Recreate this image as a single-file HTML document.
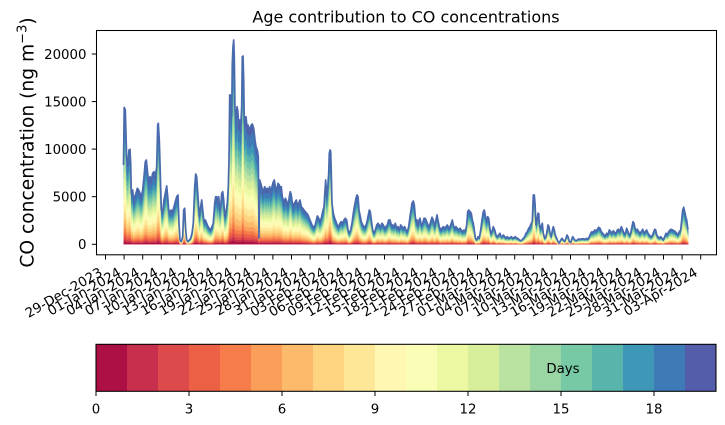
<!DOCTYPE html>
<html>
<head>
<meta charset="utf-8">
<style>
  html, body { margin: 0; padding: 0; background: #ffffff; }
  svg { display: block; }
  text { font-family: "DejaVu Sans", "Liberation Sans", sans-serif; fill: #000; }
</style>
</head>
<body>
<svg width="725" height="425" viewBox="0 0 725 425" xmlns="http://www.w3.org/2000/svg">
  <rect x="0" y="0" width="725" height="425" fill="#ffffff"/>
  <defs>
    <path id="env" d="M123.5,244.3 123.5,165 124.2,107.3 125.3,110 126.7,160 128,161.7 129,150 130,149.3 130.7,163.3 131.3,193.3 132.7,190 133.7,203.3 134.7,196.7 136,193.3 137.3,188.3 138.7,190 140,193.3 141.3,196.7 142.7,190 144,176.7 145.3,161.7 146.3,160 147.3,170 148.7,183.3 150,176.7 151.3,180 152.7,173.3 154,171.7 155.3,176.7 156.7,166.7 157.7,125 158.3,123.3 159.3,140 160.3,173.3 161.3,210 162.7,211.7 164,200 165.3,193.3 166.7,186 167.7,196.7 168.7,210 170,211.7 171.3,210 172.7,211.7 174,206.7 175.3,201.7 176.7,196.7 178,195 179,223.3 180,240 181.3,241.7 182.7,236.7 183.7,210 184.7,208.3 185.7,230 186.7,240 188,241.7 189.3,240 190.7,238.3 192,233.3 193.3,223.3 194.7,186.7 195.7,174 196.7,176.7 198,196.7 199.3,216.7 200.7,206.7 201.7,200 202.7,210 204,221.7 205.3,220 206.7,223.3 208,226.7 209.3,228.3 210.7,230 212,226.7 213.3,223.3 214.7,203.3 215.7,196.7 216.7,196.7 217.7,203.3 218.7,196.7 219.7,210 220.7,206.7 221.7,193.3 222.7,191.7 223.7,200 224.7,216.7 226,211.7 227.3,203.3 228.3,186.7 229,160 229.7,95 230.3,95 231,103.3 231.7,116.7 232.3,63.3 233,46.7 233.7,40 234.3,56.7 235,110 236,120 237,106.7 237.7,110 238.7,123.3 239.7,120 240.7,126.7 241.7,106.7 242.3,56.7 243,56 243.7,80 244.3,123.3 245,120 246,116.7 247,126.7 248,125 249.7,130 251.3,125 252.3,124 253.7,128.3 255,140 256,146.7 257.3,150 258.3,156.7 259,238 259.7,180 260.7,183.3 261.7,186.7 262.7,191.7 263.7,190 264.7,186.7 266,190 267.3,188.3 268.7,190 269.7,186.7 270.7,193.3 272,186.7 273.3,181.7 274.3,180 275.3,186.7 276.7,190 278,183.3 279.3,185 280.3,188.3 281.3,186.7 282.3,196.7 283.3,200 284.3,203.3 285.3,198.3 286.3,200 287.3,203.3 288.3,205 289.3,196.7 290.3,191.7 291.3,195 292.3,203.3 293.3,206.7 294.3,203.3 295.3,201.7 296.3,200 297.3,205 298.7,203.3 300,200 301.3,206.7 302.7,208.3 304,210 305.3,211.7 306.7,213.3 308,215 309.3,218.3 310.7,221.7 312,225 313.3,226.7 314.7,226.7 316,221.7 317.3,216 318.7,218.3 320,221.7 321.3,218.3 322.7,211.7 324,206.7 325,190 325.7,180 326.7,196.7 327.7,188.3 328.7,173.3 329.3,153.3 330,150 330.7,151.7 331.3,173.3 332,203.3 333.3,213.3 334.7,218.3 336,221.7 337.3,225 338.7,226.7 340,223.3 341.3,221.7 342.7,223.3 344,220 345.3,218.3 346.7,220 348,230 349.3,233.3 350.7,230 352,223.3 353.3,213.3 354.7,205 356,198.3 357,195 358,196.7 359,210 360,215 361.3,221.7 362.7,225 364,226.7 365.3,226.7 366.7,223.3 368,216.7 369.3,210 370.3,211.7 371.3,220 372.7,230 374,233.3 375.3,230 376.7,225 378,223.3 379.3,225 380.7,226.7 382,223.3 383.3,225 384.7,228.3 386,226.7 387.3,225 388.7,220 390,220 391.3,225 392.7,225 394,226.7 395.3,223.3 396.7,228.3 398,226.7 399.3,230 400.7,225 402,226.7 403.3,228.3 404.7,226.7 406,230 407.3,231.7 408.7,226.7 410,216.7 411,210 412,203.3 413.3,201 414.3,205 415.3,216.7 416,221.7 417,220 418,226.7 419,220 420,218.3 421.3,225 422.7,223.3 424,218.3 425.3,218.3 426.7,221.7 428,225 429.3,226.7 430.7,221.7 432,217.3 433.3,220 434.7,226.7 436,220 437,215 438,220 439.3,226.7 440.7,230 442,228.3 443.3,226.7 444.7,228.3 446,226.7 447.3,225 448.7,228.3 450,226.7 451.3,223.3 452.3,220 453.3,225 454.7,228.3 456,226.7 457.3,228.3 458.7,230 460,228.3 461.3,230 462.7,231.7 464,230 465.3,231.7 466.7,225 467.7,211.7 468.7,210 470,211.7 471.3,213.3 472.3,220 473.3,223.3 474.3,230 475.3,238.3 476.7,240 478,236.7 479.3,238.3 480.7,230 482,220 483.3,211.7 484.3,210 485.3,216 486.7,221.7 487.7,216.7 488.7,218.3 489.7,226.7 490.7,233.3 492,231.7 493.3,226.7 494.7,230 496,235 497.3,236.7 498.7,235 500,233.3 500.7,236 502,236.7 503.3,235 504.7,236.7 506,238.3 507.3,236.7 508.7,238.3 510,237.7 511.3,236.7 512.7,238.3 514,237.7 515.3,236.7 516.7,238.3 518,238.3 519.3,240 520.7,240.7 522,240 523.3,238.3 524.7,236.7 526,233.3 527.3,231.7 528.7,228.3 530,226.7 531.3,223.3 532.3,221.7 533.3,195 534.3,195 535,203.3 536,225 537,220 538,213.3 538.7,213.3 539.3,223.3 540.3,228.3 541.3,226.7 542.3,223.3 543.3,233.3 544.7,238.3 546,236.7 547,231.7 548,225 549,226.7 550,233.3 551.3,236.7 552.3,230.7 553.3,226.7 554.3,230 555.3,235 556.7,238.3 558,241.7 559.3,243.3 560.7,240 562,238.3 563.3,240 564.7,241.7 566,238.3 567,235 568,236.7 569.3,241.7 570.7,242.7 571.7,239.3 572.7,236.7 573.7,238.3 574.7,240 576,240.7 577.3,240 578.7,239 580,239.3 581.3,239 582.7,238.7 584,239 585.3,239.3 586.7,238.3 588,239.3 589.3,236.7 590.7,233.3 592,231.7 593.3,232.7 594.7,230 596,231 597.3,229.3 598.7,227.3 600,228.3 601.3,231.7 602.7,233.3 604,235 605.3,236 606.7,233.3 608,235 609.3,230 610.7,231.7 612,233.3 613.3,230.7 614.7,232.7 616,233.3 617.3,230 618.7,229.3 620,231.7 621.3,226.7 622.7,230 624,233.3 625.3,234 626.7,228.3 628,231.7 629.3,235 630.7,233.3 632,226.7 633,221.7 634,223.3 635,228.3 636,230 637.3,229.3 638.7,231.7 640,233.3 641.3,231.7 642.7,229.3 644,233.3 645.3,231.7 646.7,230 648,233.3 649.3,235 650.7,236.7 652,236 653.3,233.3 654.7,229.3 655.7,230 656.7,235 658,236.7 659.3,238.3 660.7,236.7 662,238.3 663.3,240 664.7,236.7 666,233.3 667.3,235 668.7,231.7 670,230 671.3,229.3 672.7,230 674,230.7 675.3,231.7 676.7,233.3 678,235 679.3,231.7 680.7,230 681.7,220 682.7,210 683.7,207.3 684.7,211.7 685.7,216.7 686.7,220 687.7,228.3 688.3,229.3 688.5,244.3 Z"/>
  </defs>

  <!-- Title -->
  <text x="406" y="22.5" font-size="16" text-anchor="middle">Age contribution to CO concentrations</text>

  <!-- Stacked layers (scaled copies of the total envelope about baseline y=244.3) -->
  <g>
    <use href="#env" fill="#535da9"/>
    <use href="#env" fill="#3d7ab6" transform="matrix(1,0,0,0.93,0,17.101)"/>
    <use href="#env" fill="#3f97b7" transform="matrix(1,0,0,0.83,0,41.531)"/>
    <use href="#env" fill="#59b4ab" transform="matrix(1,0,0,0.76,0,58.632)"/>
    <use href="#env" fill="#77c9a5" transform="matrix(1,0,0,0.70,0,73.29)"/>
    <use href="#env" fill="#9ad6a4" transform="matrix(1,0,0,0.645,0,86.727)"/>
    <use href="#env" fill="#bae3a1" transform="matrix(1,0,0,0.59,0,100.163)"/>
    <use href="#env" fill="#d7ef9b" transform="matrix(1,0,0,0.535,0,113.6)"/>
    <use href="#env" fill="#ecf8a2" transform="matrix(1,0,0,0.475,0,128.258)"/>
    <use href="#env" fill="#f9fdb5" transform="matrix(1,0,0,0.415,0,142.916)"/>
    <use href="#env" fill="#fff7b2" transform="matrix(1,0,0,0.355,0,157.574)"/>
    <use href="#env" fill="#fee898" transform="matrix(1,0,0,0.295,0,172.232)"/>
    <use href="#env" fill="#fed480" transform="matrix(1,0,0,0.24,0,185.668)"/>
    <use href="#env" fill="#fdba6b" transform="matrix(1,0,0,0.19,0,197.883)"/>
    <use href="#env" fill="#fb9e5a" transform="matrix(1,0,0,0.145,0,208.876)"/>
    <use href="#env" fill="#f67d4a" transform="matrix(1,0,0,0.11,0,217.427)"/>
    <use href="#env" fill="#ec6146" transform="matrix(1,0,0,0.08,0,224.756)"/>
    <use href="#env" fill="#dd4a4c" transform="matrix(1,0,0,0.055,0,230.863)"/>
    <use href="#env" fill="#c72f4c" transform="matrix(1,0,0,0.035,0,235.75)"/>
    <use href="#env" fill="#ac1045" transform="matrix(1,0,0,0.018,0,239.903)"/>
  </g>

  <!-- Top envelope stroke -->
  <path fill="none" stroke="#4a6aae" stroke-width="1.7" stroke-linejoin="round" d="M123.5,165 124.2,107.3 125.3,110 126.7,160 128,161.7 129,150 130,149.3 130.7,163.3 131.3,193.3 132.7,190 133.7,203.3 134.7,196.7 136,193.3 137.3,188.3 138.7,190 140,193.3 141.3,196.7 142.7,190 144,176.7 145.3,161.7 146.3,160 147.3,170 148.7,183.3 150,176.7 151.3,180 152.7,173.3 154,171.7 155.3,176.7 156.7,166.7 157.7,125 158.3,123.3 159.3,140 160.3,173.3 161.3,210 162.7,211.7 164,200 165.3,193.3 166.7,186 167.7,196.7 168.7,210 170,211.7 171.3,210 172.7,211.7 174,206.7 175.3,201.7 176.7,196.7 178,195 179,223.3 180,240 181.3,241.7 182.7,236.7 183.7,210 184.7,208.3 185.7,230 186.7,240 188,241.7 189.3,240 190.7,238.3 192,233.3 193.3,223.3 194.7,186.7 195.7,174 196.7,176.7 198,196.7 199.3,216.7 200.7,206.7 201.7,200 202.7,210 204,221.7 205.3,220 206.7,223.3 208,226.7 209.3,228.3 210.7,230 212,226.7 213.3,223.3 214.7,203.3 215.7,196.7 216.7,196.7 217.7,203.3 218.7,196.7 219.7,210 220.7,206.7 221.7,193.3 222.7,191.7 223.7,200 224.7,216.7 226,211.7 227.3,203.3 228.3,186.7 229,160 229.7,95 230.3,95 231,103.3 231.7,116.7 232.3,63.3 233,46.7 233.7,40 234.3,56.7 235,110 236,120 237,106.7 237.7,110 238.7,123.3 239.7,120 240.7,126.7 241.7,106.7 242.3,56.7 243,56 243.7,80 244.3,123.3 245,120 246,116.7 247,126.7 248,125 249.7,130 251.3,125 252.3,124 253.7,128.3 255,140 256,146.7 257.3,150 258.3,156.7 259,238 259.7,180 260.7,183.3 261.7,186.7 262.7,191.7 263.7,190 264.7,186.7 266,190 267.3,188.3 268.7,190 269.7,186.7 270.7,193.3 272,186.7 273.3,181.7 274.3,180 275.3,186.7 276.7,190 278,183.3 279.3,185 280.3,188.3 281.3,186.7 282.3,196.7 283.3,200 284.3,203.3 285.3,198.3 286.3,200 287.3,203.3 288.3,205 289.3,196.7 290.3,191.7 291.3,195 292.3,203.3 293.3,206.7 294.3,203.3 295.3,201.7 296.3,200 297.3,205 298.7,203.3 300,200 301.3,206.7 302.7,208.3 304,210 305.3,211.7 306.7,213.3 308,215 309.3,218.3 310.7,221.7 312,225 313.3,226.7 314.7,226.7 316,221.7 317.3,216 318.7,218.3 320,221.7 321.3,218.3 322.7,211.7 324,206.7 325,190 325.7,180 326.7,196.7 327.7,188.3 328.7,173.3 329.3,153.3 330,150 330.7,151.7 331.3,173.3 332,203.3 333.3,213.3 334.7,218.3 336,221.7 337.3,225 338.7,226.7 340,223.3 341.3,221.7 342.7,223.3 344,220 345.3,218.3 346.7,220 348,230 349.3,233.3 350.7,230 352,223.3 353.3,213.3 354.7,205 356,198.3 357,195 358,196.7 359,210 360,215 361.3,221.7 362.7,225 364,226.7 365.3,226.7 366.7,223.3 368,216.7 369.3,210 370.3,211.7 371.3,220 372.7,230 374,233.3 375.3,230 376.7,225 378,223.3 379.3,225 380.7,226.7 382,223.3 383.3,225 384.7,228.3 386,226.7 387.3,225 388.7,220 390,220 391.3,225 392.7,225 394,226.7 395.3,223.3 396.7,228.3 398,226.7 399.3,230 400.7,225 402,226.7 403.3,228.3 404.7,226.7 406,230 407.3,231.7 408.7,226.7 410,216.7 411,210 412,203.3 413.3,201 414.3,205 415.3,216.7 416,221.7 417,220 418,226.7 419,220 420,218.3 421.3,225 422.7,223.3 424,218.3 425.3,218.3 426.7,221.7 428,225 429.3,226.7 430.7,221.7 432,217.3 433.3,220 434.7,226.7 436,220 437,215 438,220 439.3,226.7 440.7,230 442,228.3 443.3,226.7 444.7,228.3 446,226.7 447.3,225 448.7,228.3 450,226.7 451.3,223.3 452.3,220 453.3,225 454.7,228.3 456,226.7 457.3,228.3 458.7,230 460,228.3 461.3,230 462.7,231.7 464,230 465.3,231.7 466.7,225 467.7,211.7 468.7,210 470,211.7 471.3,213.3 472.3,220 473.3,223.3 474.3,230 475.3,238.3 476.7,240 478,236.7 479.3,238.3 480.7,230 482,220 483.3,211.7 484.3,210 485.3,216 486.7,221.7 487.7,216.7 488.7,218.3 489.7,226.7 490.7,233.3 492,231.7 493.3,226.7 494.7,230 496,235 497.3,236.7 498.7,235 500,233.3 500.7,236 502,236.7 503.3,235 504.7,236.7 506,238.3 507.3,236.7 508.7,238.3 510,237.7 511.3,236.7 512.7,238.3 514,237.7 515.3,236.7 516.7,238.3 518,238.3 519.3,240 520.7,240.7 522,240 523.3,238.3 524.7,236.7 526,233.3 527.3,231.7 528.7,228.3 530,226.7 531.3,223.3 532.3,221.7 533.3,195 534.3,195 535,203.3 536,225 537,220 538,213.3 538.7,213.3 539.3,223.3 540.3,228.3 541.3,226.7 542.3,223.3 543.3,233.3 544.7,238.3 546,236.7 547,231.7 548,225 549,226.7 550,233.3 551.3,236.7 552.3,230.7 553.3,226.7 554.3,230 555.3,235 556.7,238.3 558,241.7 559.3,243.3 560.7,240 562,238.3 563.3,240 564.7,241.7 566,238.3 567,235 568,236.7 569.3,241.7 570.7,242.7 571.7,239.3 572.7,236.7 573.7,238.3 574.7,240 576,240.7 577.3,240 578.7,239 580,239.3 581.3,239 582.7,238.7 584,239 585.3,239.3 586.7,238.3 588,239.3 589.3,236.7 590.7,233.3 592,231.7 593.3,232.7 594.7,230 596,231 597.3,229.3 598.7,227.3 600,228.3 601.3,231.7 602.7,233.3 604,235 605.3,236 606.7,233.3 608,235 609.3,230 610.7,231.7 612,233.3 613.3,230.7 614.7,232.7 616,233.3 617.3,230 618.7,229.3 620,231.7 621.3,226.7 622.7,230 624,233.3 625.3,234 626.7,228.3 628,231.7 629.3,235 630.7,233.3 632,226.7 633,221.7 634,223.3 635,228.3 636,230 637.3,229.3 638.7,231.7 640,233.3 641.3,231.7 642.7,229.3 644,233.3 645.3,231.7 646.7,230 648,233.3 649.3,235 650.7,236.7 652,236 653.3,233.3 654.7,229.3 655.7,230 656.7,235 658,236.7 659.3,238.3 660.7,236.7 662,238.3 663.3,240 664.7,236.7 666,233.3 667.3,235 668.7,231.7 670,230 671.3,229.3 672.7,230 674,230.7 675.3,231.7 676.7,233.3 678,235 679.3,231.7 680.7,230 681.7,220 682.7,210 683.7,207.3 684.7,211.7 685.7,216.7 686.7,220 687.7,228.3 688.3,229.3"/>

  <!-- Axes frame -->
  <rect x="96.5" y="30.5" width="620" height="224.3" fill="none" stroke="#000" stroke-width="1.05"/>

  <!-- Y ticks -->
  <g stroke="#000" stroke-width="1">
    <line x1="91.8" y1="244.3" x2="96.5" y2="244.3"/>
    <line x1="91.8" y1="196.7" x2="96.5" y2="196.7"/>
    <line x1="91.8" y1="149.1" x2="96.5" y2="149.1"/>
    <line x1="91.8" y1="101.6" x2="96.5" y2="101.6"/>
    <line x1="91.8" y1="54.0" x2="96.5" y2="54.0"/>
  </g>
  <g font-size="13.33" text-anchor="end">
    <text x="86.5" y="249.1">0</text>
    <text x="86.5" y="201.5">5000</text>
    <text x="86.5" y="153.9">10000</text>
    <text x="86.5" y="106.4">15000</text>
    <text x="86.5" y="58.8">20000</text>
  </g>

  <!-- Y label -->
  <text transform="translate(33.3,142.5) rotate(-90)" font-size="18.67" text-anchor="middle">CO concentration (ng m<tspan font-size="13" dy="-7">−3</tspan><tspan dy="7">)</tspan></text>

  <!-- X ticks -->
  <g stroke="#000" stroke-width="1">
    <line x1="105.5" y1="254.8" x2="105.5" y2="259.5"/>
    <line x1="124.1" y1="254.8" x2="124.1" y2="259.5"/>
    <line x1="142.7" y1="254.8" x2="142.7" y2="259.5"/>
    <line x1="161.3" y1="254.8" x2="161.3" y2="259.5"/>
    <line x1="179.9" y1="254.8" x2="179.9" y2="259.5"/>
    <line x1="198.5" y1="254.8" x2="198.5" y2="259.5"/>
    <line x1="217.1" y1="254.8" x2="217.1" y2="259.5"/>
    <line x1="235.7" y1="254.8" x2="235.7" y2="259.5"/>
    <line x1="254.3" y1="254.8" x2="254.3" y2="259.5"/>
    <line x1="272.9" y1="254.8" x2="272.9" y2="259.5"/>
    <line x1="291.5" y1="254.8" x2="291.5" y2="259.5"/>
    <line x1="310.1" y1="254.8" x2="310.1" y2="259.5"/>
    <line x1="328.7" y1="254.8" x2="328.7" y2="259.5"/>
    <line x1="347.3" y1="254.8" x2="347.3" y2="259.5"/>
    <line x1="365.9" y1="254.8" x2="365.9" y2="259.5"/>
    <line x1="384.5" y1="254.8" x2="384.5" y2="259.5"/>
    <line x1="403.1" y1="254.8" x2="403.1" y2="259.5"/>
    <line x1="421.7" y1="254.8" x2="421.7" y2="259.5"/>
    <line x1="440.3" y1="254.8" x2="440.3" y2="259.5"/>
    <line x1="458.9" y1="254.8" x2="458.9" y2="259.5"/>
    <line x1="477.5" y1="254.8" x2="477.5" y2="259.5"/>
    <line x1="496.1" y1="254.8" x2="496.1" y2="259.5"/>
    <line x1="514.7" y1="254.8" x2="514.7" y2="259.5"/>
    <line x1="533.3" y1="254.8" x2="533.3" y2="259.5"/>
    <line x1="551.9" y1="254.8" x2="551.9" y2="259.5"/>
    <line x1="570.5" y1="254.8" x2="570.5" y2="259.5"/>
    <line x1="589.1" y1="254.8" x2="589.1" y2="259.5"/>
    <line x1="607.7" y1="254.8" x2="607.7" y2="259.5"/>
    <line x1="626.3" y1="254.8" x2="626.3" y2="259.5"/>
    <line x1="644.9" y1="254.8" x2="644.9" y2="259.5"/>
    <line x1="663.5" y1="254.8" x2="663.5" y2="259.5"/>
    <line x1="682.1" y1="254.8" x2="682.1" y2="259.5"/>
    <line x1="700.7" y1="254.8" x2="700.7" y2="259.5"/>
  </g>
  <g font-size="13.33" text-anchor="end">
    <text transform="translate(103.3,275) rotate(-30)">29-Dec-2023</text>
    <text transform="translate(121.9,275) rotate(-30)">01-Jan-2024</text>
    <text transform="translate(140.5,275) rotate(-30)">04-Jan-2024</text>
    <text transform="translate(159.1,275) rotate(-30)">07-Jan-2024</text>
    <text transform="translate(177.7,275) rotate(-30)">10-Jan-2024</text>
    <text transform="translate(196.3,275) rotate(-30)">13-Jan-2024</text>
    <text transform="translate(214.9,275) rotate(-30)">16-Jan-2024</text>
    <text transform="translate(233.5,275) rotate(-30)">19-Jan-2024</text>
    <text transform="translate(252.1,275) rotate(-30)">22-Jan-2024</text>
    <text transform="translate(270.7,275) rotate(-30)">25-Jan-2024</text>
    <text transform="translate(289.3,275) rotate(-30)">28-Jan-2024</text>
    <text transform="translate(307.9,275) rotate(-30)">31-Jan-2024</text>
    <text transform="translate(326.5,275) rotate(-30)">03-Feb-2024</text>
    <text transform="translate(345.1,275) rotate(-30)">06-Feb-2024</text>
    <text transform="translate(363.7,275) rotate(-30)">09-Feb-2024</text>
    <text transform="translate(382.3,275) rotate(-30)">12-Feb-2024</text>
    <text transform="translate(400.9,275) rotate(-30)">15-Feb-2024</text>
    <text transform="translate(419.5,275) rotate(-30)">18-Feb-2024</text>
    <text transform="translate(438.1,275) rotate(-30)">21-Feb-2024</text>
    <text transform="translate(456.7,275) rotate(-30)">24-Feb-2024</text>
    <text transform="translate(475.3,275) rotate(-30)">27-Feb-2024</text>
    <text transform="translate(493.9,275) rotate(-30)">01-Mar-2024</text>
    <text transform="translate(512.5,275) rotate(-30)">04-Mar-2024</text>
    <text transform="translate(531.1,275) rotate(-30)">07-Mar-2024</text>
    <text transform="translate(549.7,275) rotate(-30)">10-Mar-2024</text>
    <text transform="translate(568.3,275) rotate(-30)">13-Mar-2024</text>
    <text transform="translate(586.9,275) rotate(-30)">16-Mar-2024</text>
    <text transform="translate(605.5,275) rotate(-30)">19-Mar-2024</text>
    <text transform="translate(624.1,275) rotate(-30)">22-Mar-2024</text>
    <text transform="translate(642.7,275) rotate(-30)">25-Mar-2024</text>
    <text transform="translate(661.3,275) rotate(-30)">28-Mar-2024</text>
    <text transform="translate(679.9,275) rotate(-30)">31-Mar-2024</text>
    <text transform="translate(698.5,275) rotate(-30)">03-Apr-2024</text>
  </g>

  <!-- Colorbar -->
  <g>
    <rect x="96" y="344.3" width="31.5" height="47" fill="#ac1045"/>
    <rect x="127" y="344.3" width="31.5" height="47" fill="#c72f4c"/>
    <rect x="158" y="344.3" width="31.5" height="47" fill="#dd4a4c"/>
    <rect x="189" y="344.3" width="31.5" height="47" fill="#ec6146"/>
    <rect x="220" y="344.3" width="31.5" height="47" fill="#f67d4a"/>
    <rect x="251" y="344.3" width="31.5" height="47" fill="#fb9e5a"/>
    <rect x="282" y="344.3" width="31.5" height="47" fill="#fdba6b"/>
    <rect x="313" y="344.3" width="31.5" height="47" fill="#fed480"/>
    <rect x="344" y="344.3" width="31.5" height="47" fill="#fee898"/>
    <rect x="375" y="344.3" width="31.5" height="47" fill="#fff7b2"/>
    <rect x="406" y="344.3" width="31.5" height="47" fill="#f9fdb5"/>
    <rect x="437" y="344.3" width="31.5" height="47" fill="#ecf8a2"/>
    <rect x="468" y="344.3" width="31.5" height="47" fill="#d7ef9b"/>
    <rect x="499" y="344.3" width="31.5" height="47" fill="#bae3a1"/>
    <rect x="530" y="344.3" width="31.5" height="47" fill="#9ad6a4"/>
    <rect x="561" y="344.3" width="31.5" height="47" fill="#77c9a5"/>
    <rect x="592" y="344.3" width="31.5" height="47" fill="#59b4ab"/>
    <rect x="623" y="344.3" width="31.5" height="47" fill="#3f97b7"/>
    <rect x="654" y="344.3" width="31.5" height="47" fill="#3d7ab6"/>
    <rect x="685" y="344.3" width="31" height="47" fill="#535da9"/>
  </g>
  <rect x="96" y="344.3" width="620" height="47" fill="none" stroke="#000" stroke-width="1.05"/>
  <text x="563" y="372.8" font-size="13.33" text-anchor="middle">Days</text>

  <g stroke="#000" stroke-width="1">
    <line x1="96" y1="391.3" x2="96" y2="396"/>
    <line x1="189" y1="391.3" x2="189" y2="396"/>
    <line x1="282" y1="391.3" x2="282" y2="396"/>
    <line x1="375" y1="391.3" x2="375" y2="396"/>
    <line x1="468" y1="391.3" x2="468" y2="396"/>
    <line x1="561" y1="391.3" x2="561" y2="396"/>
    <line x1="654" y1="391.3" x2="654" y2="396"/>
  </g>
  <g font-size="13.33" text-anchor="middle">
    <text x="96" y="413.3">0</text>
    <text x="189" y="413.3">3</text>
    <text x="282" y="413.3">6</text>
    <text x="375" y="413.3">9</text>
    <text x="468" y="413.3">12</text>
    <text x="561" y="413.3">15</text>
    <text x="654" y="413.3">18</text>
  </g>
</svg>
</body>
</html>
